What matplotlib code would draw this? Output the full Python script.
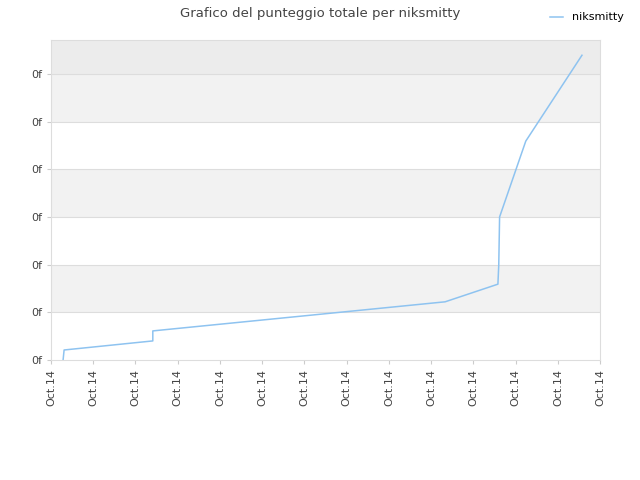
#!/usr/bin/env python3
import matplotlib
matplotlib.use('Agg')
import matplotlib.pyplot as plt

# data (x in tick units, y in tick units)
xs = [0.286, 0.31, 2.41, 2.41, 9.33, 10.58, 10.60, 10.62, 11.24, 12.57]
ys = [0.0, 0.21, 0.40, 0.61, 1.22, 1.59, 1.99, 3.0, 4.59, 6.39]
xticks = list(range(14))
xlabels = ['Oct.14'] * 14
yticks = list(range(7))
ylabels = ['0f'] * 7
band_colors = ['white', '#f2f2f2', 'white', '#f2f2f2', 'white', '#f2f2f2', '#ececec']

fig = plt.figure(figsize=(6.4, 4.8), dpi=100)
ax = fig.add_axes([0.0797, 0.25, 0.858, 0.6667])
top = 6.71
for i, c in enumerate(band_colors):
    ax.axhspan(i, min(i + 1, top), color=c, zorder=0, lw=0)
for t in yticks[1:]:
    ax.axhline(t, color='#dddddd', lw=0.8, zorder=1)
ax.plot(xs, ys, color='#8ec3f0', lw=1.1, label='niksmitty', zorder=2)
ax.set_xlim(0, 13)
ax.set_ylim(0, top)
ax.set_xticks(xticks)
ax.set_xticklabels(xlabels, rotation=90, fontsize=8, color='#444444')
ax.set_yticks(yticks)
ax.set_yticklabels(ylabels, fontsize=8, color='#444444')
ax.tick_params(length=3, color='#cccccc')
for s in ax.spines.values():
    s.set_color('#dddddd')
fig.text(0.5, 0.985, 'Grafico del punteggio totale per niksmitty', ha='center', va='top',
         fontsize=9.5, color='#444444')
fig.legend(loc='upper right', bbox_to_anchor=(0.99, 0.995), frameon=False, fontsize=8,
           handlelength=1.2)
fig.savefig('out.png', dpi=100)
